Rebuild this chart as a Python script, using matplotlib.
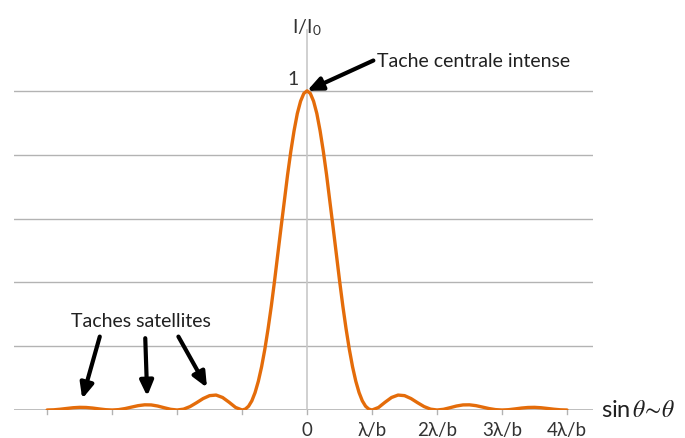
import matplotlib
matplotlib.use("Agg")
import matplotlib.pyplot as plt

# Relative intensity I/I0 versus sin(theta) in units of lambda/b
x_pos = [-4.0, -3.9, -3.8, -3.7, -3.6, -3.5, -3.4, -3.3, -3.2, -3.1,
         -3.0, -2.9, -2.8, -2.7, -2.6, -2.5, -2.4, -2.3, -2.2, -2.1,
         -2.0, -1.9, -1.8, -1.7, -1.6, -1.5, -1.4, -1.3, -1.2, -1.1,
         -1.0, -0.95, -0.9, -0.85, -0.8, -0.75, -0.7, -0.65, -0.6, -0.55,
         -0.5, -0.45, -0.4, -0.35, -0.3, -0.25, -0.2, -0.15, -0.1, -0.05,
         0.0, 0.05, 0.1, 0.15, 0.2, 0.25, 0.3, 0.35, 0.4, 0.45,
         0.5, 0.55, 0.6, 0.65, 0.7, 0.75, 0.8, 0.85, 0.9, 0.95,
         1.0, 1.1, 1.2, 1.3, 1.4, 1.5, 1.6, 1.7, 1.8, 1.9,
         2.0, 2.1, 2.2, 2.3, 2.4, 2.5, 2.6, 2.7, 2.8, 2.9,
         3.0, 3.1, 3.2, 3.3, 3.4, 3.5, 3.6, 3.7, 3.8, 3.9, 4.0]
intensity = [0.0, 0.0006, 0.0024, 0.0048, 0.0071, 0.0083, 0.0079, 0.0061, 0.0034, 0.0010,
             0.0, 0.0012, 0.0045, 0.0091, 0.0136, 0.0162, 0.0159, 0.0125, 0.0072, 0.0022,
             0.0, 0.0027, 0.0108, 0.0229, 0.0358, 0.0450, 0.0468, 0.0392, 0.0243, 0.0080,
             0.0, 0.0028, 0.0119, 0.0287, 0.0547, 0.0901, 0.1353, 0.1903, 0.2546, 0.3262,
             0.4053, 0.4892, 0.5728, 0.6546, 0.7368, 0.8106, 0.8751, 0.9290, 0.9675, 0.9918,
             1.0, 0.9918, 0.9675, 0.9290, 0.8751, 0.8106, 0.7368, 0.6546, 0.5728, 0.4892,
             0.4053, 0.3262, 0.2546, 0.1903, 0.1353, 0.0901, 0.0547, 0.0287, 0.0119, 0.0028,
             0.0, 0.0080, 0.0243, 0.0392, 0.0468, 0.0450, 0.0358, 0.0229, 0.0108, 0.0027,
             0.0, 0.0022, 0.0072, 0.0125, 0.0159, 0.0162, 0.0136, 0.0091, 0.0045, 0.0012,
             0.0, 0.0010, 0.0034, 0.0061, 0.0079, 0.0083, 0.0071, 0.0048, 0.0024, 0.0006, 0.0]

tick_values = [0, 1, 2, 3, 4]
tick_labels = ["0", "λ/b", "2λ/b", "3λ/b", "4λ/b"]
grid_levels = [0.2, 0.4, 0.6, 0.8, 1.0]

plt.rcParams['font.family'] = ['Lato', 'DejaVu Sans']
plt.rcParams['mathtext.fontset'] = 'stix'

fig = plt.figure(figsize=(6.85, 4.39), dpi=100)
ax = fig.add_axes([14/685, 28/439, 579/685, 383/439])
ax.set_xlim(-4.51, 4.40)
ax.set_ylim(0, 1.2)
for s in ax.spines.values():
    s.set_visible(False)
ax.set_yticks([])
ax.set_xticks([])

grid_color = "#b3b3b3"
for g in grid_levels:
    ax.axhline(g, color=grid_color, lw=1.0, zorder=1)
ax.axhline(0, color=grid_color, lw=1.2, zorder=1)
ax.plot([0, 0], [0, 1.19], color="#c8c8c8", lw=1.2, zorder=1)

# tick marks below x axis
for t in range(-4, 5):
    ax.plot([t, t], [0, -0.013], color=grid_color, lw=1.0, clip_on=False, zorder=1)

ax.plot(x_pos, intensity, color="#e46c0a", lw=2.4, zorder=3, solid_capstyle='round')

label_color = "#333333"
for v, lab in zip(tick_values, tick_labels):
    ax.text(v, -0.034, lab, ha='center', va='top', fontsize=13.5, color=label_color)

ax.text(-0.13, 1.04, "1", ha='right', va='center', fontsize=14, color=label_color)
ax.text(0.0, 1.20, r"I/I$_\mathregular{0}$", ha='center', va='center', fontsize=14,
        color=label_color, clip_on=False)
ax.text(4.52, 0.0, r"$\mathregular{sin}\,\theta\!\sim\!\theta$", ha='left', va='center',
        fontsize=17, color="#202020", clip_on=False)

ax.text(1.08, 1.095, "Tache centrale intense", ha='left', va='center', fontsize=14, color="#202020")
ax.text(-2.55, 0.28, "Taches satellites", ha='center', va='center', fontsize=14, color="#202020")

arrow = dict(arrowstyle='-|>,head_length=0.9,head_width=0.4', color='black', lw=3.0,
             shrinkA=0, shrinkB=0)
ax.annotate("", xy=(0.0, 1.0), xytext=(1.02, 1.095), arrowprops=arrow)
ax.annotate("", xy=(-3.46, 0.035), xytext=(-3.19, 0.23), arrowprops=arrow)
ax.annotate("", xy=(-2.46, 0.043), xytext=(-2.49, 0.225), arrowprops=arrow)
ax.annotate("", xy=(-1.54, 0.07), xytext=(-1.98, 0.23), arrowprops=arrow)

fig.savefig("out.png", dpi=100, facecolor="white")
